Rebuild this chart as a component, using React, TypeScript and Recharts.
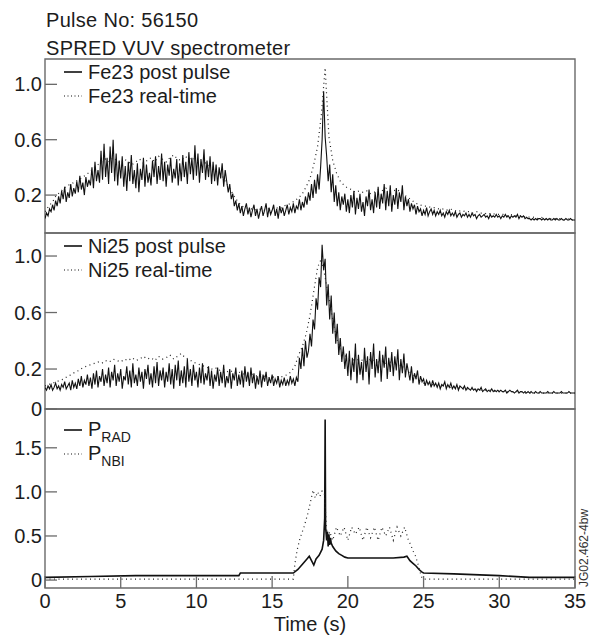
import { LineChart, Line, XAxis, YAxis, ReferenceArea, Legend } from 'recharts'

// sampling steps of the spectrometer traces (s)
const POST_STEP = 0.1
const RT_STEP = 0.25

// Fe23, post pulse analysis, t = 0 .. 35 every 0.1 s (one row per second)
const FE23_POST = [
  0.03, 0.07, 0.05, 0.10, 0.08, 0.13, 0.09, 0.16, 0.12, 0.19,
  0.14, 0.23, 0.17, 0.26, 0.15, 0.22, 0.18, 0.28, 0.19, 0.25,
  0.21, 0.30, 0.22, 0.34, 0.24, 0.29, 0.20, 0.33, 0.26, 0.31,
  0.27, 0.40, 0.25, 0.44, 0.30, 0.38, 0.29, 0.52, 0.31, 0.57,
  0.33, 0.47, 0.28, 0.55, 0.36, 0.60, 0.30, 0.50, 0.27, 0.45,
  0.32, 0.48, 0.26, 0.41, 0.23, 0.44, 0.30, 0.49, 0.28, 0.38,
  0.25, 0.43, 0.22, 0.39, 0.31, 0.47, 0.26, 0.42, 0.29, 0.36,
  0.27, 0.45, 0.33, 0.48, 0.28, 0.41, 0.31, 0.50, 0.30, 0.44,
  0.26, 0.42, 0.34, 0.47, 0.29, 0.39, 0.32, 0.46, 0.27, 0.43,
  0.30, 0.49, 0.33, 0.44, 0.28, 0.51, 0.35, 0.47, 0.31, 0.56,
  0.34, 0.50, 0.29, 0.46, 0.36, 0.53, 0.31, 0.45, 0.33, 0.48,
  0.28, 0.44, 0.30, 0.42, 0.27, 0.40, 0.32, 0.43, 0.26, 0.38,
  0.30, 0.22, 0.28, 0.17, 0.21, 0.12, 0.16, 0.09, 0.14, 0.07,
  0.12, 0.05, 0.10, 0.14, 0.06, 0.11, 0.04, 0.09, 0.13, 0.05,
  0.10, 0.03, 0.08, 0.12, 0.05, 0.09, 0.14, 0.04, 0.11, 0.06,
  0.09, 0.13, 0.05, 0.10, 0.03, 0.12, 0.07, 0.11, 0.05, 0.09,
  0.13, 0.06, 0.11, 0.08, 0.14, 0.07, 0.12, 0.10, 0.17, 0.09,
  0.15, 0.11, 0.19, 0.13, 0.22, 0.16, 0.28, 0.18, 0.31, 0.21,
  0.35, 0.24, 0.40, 0.60, 0.95, 0.62, 0.48, 0.30, 0.42, 0.22,
  0.35, 0.15, 0.27, 0.12, 0.22, 0.09, 0.19, 0.13, 0.21, 0.08,
  0.17, 0.07, 0.20, 0.11, 0.23, 0.06, 0.18, 0.10, 0.21, 0.08,
  0.15, 0.05, 0.19, 0.12, 0.24, 0.09, 0.17, 0.07, 0.22, 0.11,
  0.26, 0.10, 0.21, 0.14, 0.28, 0.09, 0.23, 0.12, 0.27, 0.08,
  0.20, 0.13, 0.25, 0.10, 0.22, 0.15, 0.27, 0.09, 0.19, 0.12,
  0.17, 0.08, 0.14, 0.10, 0.13, 0.06, 0.12, 0.08, 0.10, 0.05,
  0.09, 0.06, 0.11, 0.05, 0.08, 0.10, 0.06, 0.09, 0.05, 0.08,
  0.06, 0.09, 0.05, 0.07, 0.04, 0.08, 0.06, 0.09, 0.05, 0.07,
  0.05, 0.08, 0.04, 0.06, 0.07, 0.04, 0.06, 0.05, 0.07, 0.04,
  0.06, 0.04, 0.07, 0.05, 0.06, 0.03, 0.05, 0.06, 0.04, 0.05,
  0.06, 0.04, 0.05, 0.03, 0.06, 0.04, 0.05, 0.04, 0.06, 0.04,
  0.05, 0.03, 0.05, 0.04, 0.06, 0.04, 0.05, 0.03, 0.05, 0.04,
  0.05, 0.04, 0.06, 0.03, 0.05, 0.04, 0.05, 0.03, 0.04, 0.03,
  0.03, 0.02, 0.03, 0.02, 0.03, 0.02, 0.03, 0.03, 0.02, 0.03,
  0.02, 0.03, 0.02, 0.03, 0.02, 0.02, 0.03, 0.02, 0.03, 0.02,
  0.02, 0.03, 0.02, 0.02, 0.03, 0.02, 0.02, 0.03, 0.02, 0.02,
  0.02,
]

// Fe23, real-time, every 0.25 s
const FE23_RT = [
  0.08, 0.12, 0.15, 0.20, 0.22, 0.25, 0.27, 0.28, 0.30, 0.31, 0.33, 0.35,
  0.37, 0.40, 0.42, 0.44, 0.46, 0.44, 0.47, 0.45, 0.43, 0.46, 0.44, 0.42,
  0.44, 0.46, 0.43, 0.45, 0.47, 0.44, 0.48, 0.46, 0.44, 0.47, 0.49, 0.46,
  0.45, 0.48, 0.46, 0.47, 0.45, 0.43, 0.44, 0.42, 0.40, 0.38, 0.36, 0.33,
  0.28, 0.24, 0.19, 0.15, 0.12, 0.11, 0.10, 0.10, 0.09, 0.10, 0.09, 0.10,
  0.10, 0.11, 0.10, 0.12, 0.13, 0.14, 0.16, 0.18, 0.21, 0.26, 0.32, 0.42,
  0.55, 0.78, 1.12, 0.62, 0.45, 0.36, 0.30, 0.27, 0.25, 0.24, 0.22, 0.23,
  0.22, 0.23, 0.21, 0.22, 0.24, 0.23, 0.25, 0.24, 0.23, 0.24, 0.22, 0.20,
  0.18, 0.16, 0.14, 0.13, 0.12, 0.12, 0.11, 0.11, 0.10, 0.10, 0.09, 0.10,
  0.09, 0.08, 0.09, 0.08, 0.08, 0.07, 0.08, 0.07, 0.07, 0.06, 0.07, 0.06,
  0.06, 0.06, 0.05, 0.06, 0.05, 0.05, 0.05, 0.04, 0.04, 0.04, 0.03, 0.04,
  0.03, 0.03, 0.03, 0.03, 0.03, 0.02, 0.03, 0.02, 0.02,
]

// Ni25, post pulse analysis, every 0.1 s (one row per second)
const NI25_POST = [
  0.07, 0.05, 0.08, 0.06, 0.09, 0.05, 0.07, 0.10, 0.06, 0.08,
  0.05, 0.09, 0.07, 0.11, 0.06, 0.08, 0.10, 0.05, 0.12, 0.07,
  0.10, 0.06, 0.13, 0.08, 0.15, 0.07, 0.12, 0.09, 0.16, 0.08,
  0.14, 0.06, 0.17, 0.09, 0.19, 0.07, 0.15, 0.11, 0.20, 0.08,
  0.16, 0.10, 0.21, 0.07, 0.18, 0.12, 0.23, 0.08, 0.17, 0.11,
  0.20, 0.06, 0.15, 0.12, 0.22, 0.09, 0.19, 0.07, 0.24, 0.10,
  0.16, 0.08, 0.21, 0.11, 0.18, 0.06, 0.20, 0.13, 0.23, 0.09,
  0.17, 0.07, 0.22, 0.10, 0.25, 0.08, 0.19, 0.12, 0.21, 0.07,
  0.18, 0.11, 0.24, 0.09, 0.20, 0.06, 0.23, 0.12, 0.26, 0.08,
  0.19, 0.10, 0.22, 0.07, 0.27, 0.11, 0.20, 0.08, 0.23, 0.12,
  0.18, 0.07, 0.21, 0.10, 0.24, 0.09, 0.17, 0.12, 0.22, 0.08,
  0.19, 0.06, 0.16, 0.11, 0.21, 0.08, 0.18, 0.10, 0.23, 0.07,
  0.15, 0.10, 0.20, 0.06, 0.17, 0.12, 0.21, 0.08, 0.16, 0.09,
  0.19, 0.07, 0.22, 0.11, 0.18, 0.08, 0.21, 0.10, 0.17, 0.06,
  0.15, 0.09, 0.19, 0.07, 0.16, 0.11, 0.18, 0.08, 0.14, 0.10,
  0.16, 0.08, 0.13, 0.10, 0.15, 0.07, 0.12, 0.09, 0.14, 0.08,
  0.12, 0.09, 0.15, 0.10, 0.13, 0.08, 0.14, 0.11, 0.28, 0.20,
  0.35, 0.22, 0.40, 0.28, 0.33, 0.45, 0.36, 0.55, 0.48, 0.70,
  0.62, 0.85, 0.78, 1.08, 0.90, 0.98, 0.65, 0.80, 0.55, 0.72,
  0.45, 0.60, 0.38, 0.52, 0.30, 0.42, 0.25, 0.36, 0.20, 0.31,
  0.15, 0.33, 0.12, 0.28, 0.18, 0.38, 0.10, 0.30, 0.16, 0.25,
  0.12, 0.35, 0.18, 0.29, 0.09, 0.32, 0.20, 0.38, 0.14, 0.27,
  0.17, 0.33, 0.11, 0.30, 0.21, 0.36, 0.13, 0.28, 0.18, 0.32,
  0.15, 0.29, 0.19, 0.34, 0.12, 0.27, 0.17, 0.31, 0.14, 0.24,
  0.18, 0.12, 0.22, 0.10, 0.17, 0.13, 0.19, 0.09, 0.15, 0.11,
  0.13, 0.08, 0.12, 0.09, 0.11, 0.07, 0.12, 0.08, 0.10, 0.07,
  0.10, 0.06, 0.09, 0.08, 0.11, 0.06, 0.09, 0.07, 0.10, 0.06,
  0.08, 0.06, 0.09, 0.05, 0.08, 0.07, 0.06, 0.08, 0.05, 0.07,
  0.06, 0.05, 0.07, 0.05, 0.06, 0.04, 0.06, 0.05, 0.07, 0.04,
  0.05, 0.06, 0.04, 0.05, 0.04, 0.06, 0.04, 0.05, 0.04, 0.05,
  0.04, 0.05, 0.04, 0.04, 0.05, 0.03, 0.04, 0.05, 0.04, 0.04,
  0.03, 0.04, 0.05, 0.03, 0.04, 0.04, 0.03, 0.04, 0.03, 0.04,
  0.03, 0.04, 0.03, 0.03, 0.04, 0.03, 0.03, 0.04, 0.03, 0.03,
  0.03, 0.03, 0.04, 0.03, 0.03, 0.03, 0.04, 0.03, 0.03, 0.03,
  0.03, 0.04, 0.03, 0.03, 0.03, 0.03, 0.04, 0.03, 0.03, 0.03,
  0.03,
]

// Ni25, real-time, every 0.25 s
const NI25_RT = [
  0.08, 0.09, 0.10, 0.11, 0.12, 0.13, 0.15, 0.16, 0.18, 0.19, 0.21, 0.22,
  0.23, 0.24, 0.25, 0.24, 0.26, 0.25, 0.27, 0.26, 0.25, 0.27, 0.26, 0.28,
  0.26, 0.27, 0.29, 0.27, 0.28, 0.26, 0.29, 0.27, 0.28, 0.30, 0.27, 0.29,
  0.31, 0.28, 0.27, 0.25, 0.24, 0.23, 0.22, 0.21, 0.20, 0.21, 0.19, 0.20,
  0.18, 0.19, 0.17, 0.18, 0.17, 0.16, 0.17, 0.16, 0.15, 0.16, 0.15, 0.14,
  0.14, 0.15, 0.14, 0.15, 0.16, 0.18, 0.22, 0.30, 0.36, 0.45, 0.58, 0.75,
  0.92, 0.98, 0.85, 0.70, 0.55, 0.42, 0.34, 0.30, 0.28, 0.27, 0.26, 0.27,
  0.26, 0.25, 0.27, 0.26, 0.25, 0.26, 0.24, 0.25, 0.24, 0.23, 0.22, 0.21,
  0.19, 0.16, 0.13, 0.11, 0.10, 0.10, 0.09, 0.09, 0.08, 0.08, 0.08, 0.07,
  0.07, 0.07, 0.06, 0.06, 0.06, 0.06, 0.05, 0.05, 0.05, 0.05, 0.05, 0.04,
  0.04, 0.04, 0.04, 0.04, 0.04, 0.04, 0.04, 0.03, 0.03, 0.03, 0.03, 0.03,
  0.03, 0.03, 0.03, 0.03, 0.03, 0.03, 0.03, 0.03, 0.03,
]

// radiated power
const PRAD_T = [
  0, 3, 6, 9, 12, 12.8, 12.9, 14, 16.4, 16.7,
  17.0, 17.3, 17.45, 17.6, 17.75, 17.9, 18.1, 18.3, 18.4, 18.47,
  18.5, 18.53, 18.6, 18.65, 18.7, 18.75, 18.8, 18.85, 18.9, 19.0,
  19.2, 19.4, 19.6, 19.8, 20.0, 21, 22, 23, 23.7, 23.9,
  24.1, 24.3, 24.5, 24.7, 24.9, 25.0, 27, 30, 32, 35,
]
const PRAD = [
  0.03, 0.04, 0.05, 0.05, 0.05, 0.05, 0.08, 0.08, 0.08, 0.12,
  0.18, 0.24, 0.27, 0.22, 0.17, 0.24, 0.28, 0.35, 0.45, 0.70,
  1.82, 0.60, 0.45, 0.55, 0.38, 0.52, 0.40, 0.48, 0.42, 0.38,
  0.33, 0.30, 0.28, 0.26, 0.25, 0.25, 0.25, 0.25, 0.26, 0.27,
  0.22, 0.19, 0.16, 0.12, 0.09, 0.08, 0.07, 0.05, 0.03, 0.03,
]

// neutral beam power
const PNBI_T = [
  0, 16.4, 16.5, 16.65, 16.85, 17.1, 17.35, 17.55, 17.7, 17.85,
  18.0, 18.15, 18.3, 18.45, 18.55, 18.65, 18.8, 19.0, 19.25, 19.5,
  19.75, 20.0, 20.25, 20.5, 20.75, 21.0, 21.25, 21.5, 21.75, 22.0,
  22.25, 22.5, 22.75, 23.0, 23.25, 23.5, 23.75, 24.0, 24.15, 24.3,
  24.45, 24.6, 24.75, 24.9, 25.0, 35,
]
const PNBI = [
  0.01, 0.01, 0.18, 0.34, 0.48, 0.60, 0.75, 0.90, 1.02, 0.93,
  1.00, 0.95, 1.01, 0.98, 0.70, 0.45, 0.55, 0.45, 0.60, 0.50,
  0.60, 0.45, 0.60, 0.52, 0.60, 0.45, 0.60, 0.48, 0.60, 0.45,
  0.60, 0.50, 0.60, 0.45, 0.60, 0.50, 0.60, 0.45, 0.40, 0.33,
  0.28, 0.20, 0.10, 0.02, 0.01, 0.01,
]

const TIME_TICKS = [0, 5, 10, 15, 20, 25, 30, 35]
const FE_TICKS = [0.2, 0.6, 1.0]
const NI_TICKS = [-0.083, 0.2, 0.6, 1.0] // lowest sits on the panel edge, labelled 0
const P_TICKS = [0, 0.5, 1.0, 1.5]

const FE_DOMAIN = [-0.074, 1.183]
const NI_DOMAIN = [-0.083, 1.163]
const P_DOMAIN = [-0.09, 1.94]

const FONT = '"Liberation Sans", Arial, sans-serif'
const AXIS = '#6a6a6a'
const INK = '#1c1c1c'
const DOTS = '1 3.5'

const byStep = (vals: number[], step: number) =>
  vals.map((v, i) => ({ t: Math.round(i * step * 100) / 100, v }))
const zipT = (ts: number[], vs: number[]) => ts.map((t, i) => ({ t, v: vs[i] }))

const fmtY = (v: number) => (v <= 0 ? '0' : v.toFixed(1))

function YTick(props: any) {
  const { x, y, payload } = props
  return (
    <g>
      <line x1={x} x2={x + 12} y1={y} y2={y} stroke={AXIS} strokeWidth={1.3} />
      <text x={x - 3} y={y} dy="0.35em" textAnchor="end" fontSize={20} fontFamily={FONT} fill={INK}>
        {fmtY(payload.value)}
      </text>
    </g>
  )
}

function XTick(props: any) {
  const { x, y, payload } = props
  return (
    <g>
      <line x1={x} x2={x} y1={y} y2={y - 12} stroke={AXIS} strokeWidth={1.3} />
      <text x={x} y={y + 20} textAnchor="middle" fontSize={20} fontFamily={FONT} fill={INK}>
        {payload.value}
      </text>
    </g>
  )
}

const isDotted = (name: string) => /real-time|NBI/.test(name)

function legendLabel(name: string) {
  if (name.startsWith('P_')) {
    return (
      <span>
        P<span style={{ fontSize: 14, position: 'relative', top: 6 }}>{name.slice(2)}</span>
      </span>
    )
  }
  return <span>{name}</span>
}

function LegendBox(props: any) {
  const order: string[] = props.order || []
  const items = [...(props.payload || [])].sort(
    (a: any, b: any) => order.indexOf(a.value) - order.indexOf(b.value)
  )
  return (
    <div style={{ fontFamily: FONT, fontSize: 20, color: INK, lineHeight: '24px' }}>
      {items.map((e: any) => (
        <div key={e.value} style={{ display: 'flex', alignItems: 'center', height: 24 }}>
          <svg width={26} height={24} style={{ marginRight: 2 }}>
            <line
              x1={4}
              x2={22}
              y1={12}
              y2={12}
              stroke="#111"
              strokeWidth={isDotted(e.value) ? 1.2 : 1.6}
              strokeDasharray={isDotted(e.value) ? '1 2.5' : undefined}
            />
          </svg>
          {legendLabel(e.value)}
        </div>
      ))}
    </div>
  )
}

function Panel(props: {
  top: number
  height: number
  margin: any
  domain: number[]
  ticks: number[]
  solid: any[]
  dotted: any[]
  names: string[]
  legendTop: number
  solidWidth: number
  showTime?: boolean
}) {
  const { top, height, margin, domain, ticks, solid, dotted, names, legendTop, solidWidth, showTime } = props
  return (
    <div style={{ position: 'absolute', left: 0, top }}>
      <LineChart width={595} height={height} margin={margin}>
        <XAxis
          type="number"
          dataKey="t"
          domain={[0, 35]}
          ticks={TIME_TICKS}
          allowDataOverflow
          hide={!showTime}
          height={48}
          axisLine={false}
          tickLine={false}
          tickSize={0}
          tickMargin={0}
          tick={<XTick />}
          interval={0}
          label={
            showTime
              ? { value: 'Time (s)', position: 'insideBottom', offset: 5, fontSize: 20, fontFamily: FONT, fill: INK }
              : undefined
          }
        />
        <YAxis
          type="number"
          domain={domain}
          ticks={ticks}
          allowDataOverflow
          width={45}
          axisLine={false}
          tickLine={false}
          tickSize={0}
          tickMargin={0}
          tick={<YTick />}
          interval={0}
        />
        <ReferenceArea
          x1={0}
          x2={35}
          y1={domain[0]}
          y2={domain[1]}
          fill="none"
          stroke={AXIS}
          strokeWidth={1.4}
          ifOverflow="visible"
        />
        <Line
          data={solid}
          dataKey="v"
          name={names[0]}
          type="linear"
          stroke="#111"
          strokeWidth={solidWidth}
          dot={false}
          isAnimationActive={false}
        />
        <Line
          data={dotted}
          dataKey="v"
          name={names[1]}
          type="linear"
          stroke="#222"
          strokeWidth={1.2}
          strokeDasharray={DOTS}
          dot={false}
          isAnimationActive={false}
        />
        <Legend
          layout="horizontal"
          verticalAlign="middle"
          align="center"
          content={<LegendBox order={names} />}
          wrapperStyle={{ left: 60, top: legendTop, width: 'auto', height: 'auto' }}
        />
      </LineChart>
    </div>
  )
}

export default function App() {
  return (
    <div
      style={{
        position: 'absolute',
        left: 0,
        top: 0,
        width: 595,
        height: 636,
        background: '#fff',
        fontFamily: FONT,
        overflow: 'hidden',
      }}
    >
      <svg width={595} height={636} style={{ position: 'absolute', left: 0, top: 0 }}>
        <text x={46} y={27} fontSize={20} fontFamily={FONT} fill={INK} letterSpacing={0.3}>
          Pulse No: 56150
        </text>
        <text x={46} y={55} fontSize={20} fontFamily={FONT} fill={INK} letterSpacing={0.3}>
          SPRED VUV spectrometer
        </text>
        <text transform="translate(588,587) rotate(-90)" fontSize={12} fontFamily={FONT} fill="#333">
          JG02.462-4bw
        </text>
      </svg>
      <Panel
        top={0}
        height={240}
        margin={{ top: 59, right: 20, bottom: 7, left: 0 }}
        domain={FE_DOMAIN}
        ticks={FE_TICKS}
        solid={byStep(FE23_POST, POST_STEP)}
        dotted={byStep(FE23_RT, RT_STEP)}
        names={['Fe23 post pulse', 'Fe23 real-time']}
        legendTop={60}
        solidWidth={1.1}
      />
      <Panel
        top={200}
        height={225}
        margin={{ top: 33, right: 20, bottom: 16, left: 0 }}
        domain={NI_DOMAIN}
        ticks={NI_TICKS}
        solid={byStep(NI25_POST, POST_STEP)}
        dotted={byStep(NI25_RT, RT_STEP)}
        names={['Ni25 post pulse', 'Ni25 real-time']}
        legendTop={34}
        solidWidth={1.1}
      />
      <Panel
        top={400}
        height={236}
        margin={{ top: 9, right: 20, bottom: 0, left: 0 }}
        domain={P_DOMAIN}
        ticks={P_TICKS}
        solid={zipT(PRAD_T, PRAD)}
        dotted={zipT(PNBI_T, PNBI)}
        names={['P_RAD', 'P_NBI']}
        legendTop={18}
        solidWidth={1.6}
        showTime
      />
    </div>
  )
}
